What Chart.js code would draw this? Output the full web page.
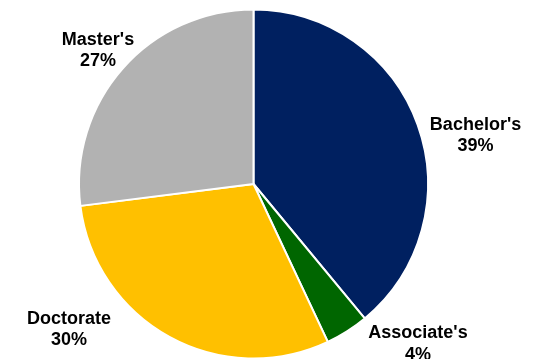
<!DOCTYPE html>
<html>
<head>
<meta charset="utf-8">
<title>Degree Mix</title>
<script src="https://cdn.jsdelivr.net/npm/chart.js@4.4.1/dist/chart.umd.min.js"></script>
<style>
  html, body { margin: 0; padding: 0; background: #fff; overflow: hidden; }
</style>
</head>
<body>
<canvas id="degreeChart" width="539" height="359" style="display:block;width:539px;height:359px"></canvas>
<script>
// degree breakdown, percent of total
var degrees = ["Bachelor's", "Associate's", "Doctorate", "Master's"];
var shares = [39, 4, 30, 27];
var sliceColors = ["#002060", "#006600", "#FFC000", "#B2B2B2"];

// draws "name / pct%" next to each slice, nudged off the slice mid-angle
var sliceLabels = {
  id: "sliceLabels",
  afterDatasetsDraw: function(chart, args, opts) {
    var ctx = chart.ctx;
    var meta = chart.getDatasetMeta(0);
    ctx.save();
    ctx.font = opts.font;
    ctx.fillStyle = "#000";
    ctx.textAlign = "center";
    ctx.textBaseline = "middle";
    meta.data.forEach(function(arc, i) {
      var p = arc.getProps(["x", "y", "startAngle", "endAngle", "outerRadius"], true);
      var mid = (p.startAngle + p.endAngle) / 2;
      var r = p.outerRadius * 1.25;
      var nudge = opts.nudge[i] || [0, 0];
      var x = p.x + Math.cos(mid) * r + nudge[0];
      var y = p.y + Math.sin(mid) * r + nudge[1];
      var lh = opts.lineHeight;
      ctx.fillText(chart.data.labels[i], x, y - lh / 2);
      ctx.fillText(chart.data.datasets[0].data[i] + "%", x, y + lh / 2);
    });
    ctx.restore();
  }
};

var chart = new Chart(document.getElementById("degreeChart"), {
  type: "pie",
  data: {
    labels: degrees,
    datasets: [{
      data: shares,
      backgroundColor: sliceColors,
      borderColor: "#ffffff",
      borderWidth: 2,
      radius: 174.5
    }]
  },
  options: {
    responsive: false,
    animation: false,
    layout: { padding: { left: 0, right: 32, top: 9, bottom: 0 } },
    plugins: {
      legend: { display: false },
      tooltip: { enabled: false },
      sliceLabels: {
        font: "bold 18px 'Liberation Sans', Arial, sans-serif",
        lineHeight: 21.5,
        nudge: [[16.8, 25.6], [47.6, -24.1], [-79.4, -45.7], [8.1, 10.7]]
      }
    }
  },
  plugins: [sliceLabels]
});
</script>
</body>
</html>
